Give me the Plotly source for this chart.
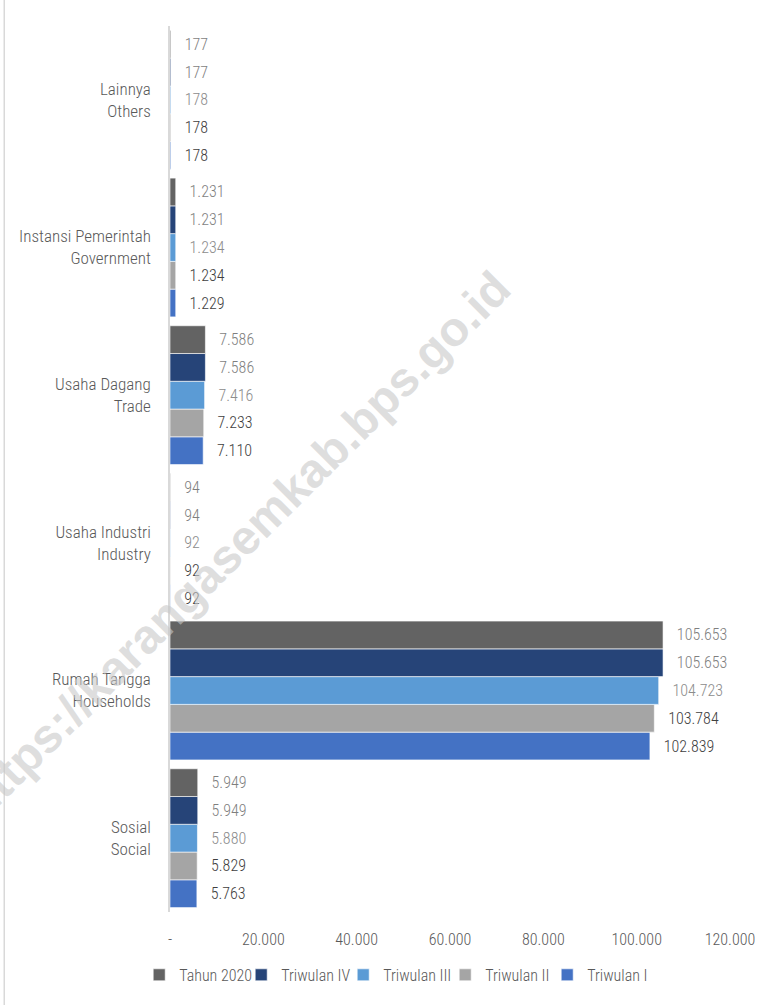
import plotly.graph_objects as go

# Categories, bottom to top on the value axis
categories = [
    "Sosial<br>Social",
    "Rumah Tangga<br>Households",
    "Usaha Industri<br>Industry",
    "Usaha Dagang<br>Trade",
    "Instansi Pemerintah<br>Government",
    "Lainnya<br>Others",
]

# Series values per category (same order as categories)
triwulan_1 = [5763, 102839, 92, 7110, 1229, 178]
triwulan_2 = [5829, 103784, 92, 7233, 1234, 178]
triwulan_3 = [5880, 104723, 92, 7416, 1234, 178]
triwulan_4 = [5949, 105653, 94, 7586, 1231, 177]
tahun_2020 = [5949, 105653, 94, 7586, 1231, 177]

tick_values = [0, 20000, 40000, 60000, 80000, 100000, 120000]
tick_labels = ["-", "20.000", "40.000", "60.000", "80.000", "100.000", "120.000"]

FONT = "Roboto Condensed, Roboto, sans-serif"
W = 300

series = [
    ("Triwulan I", triwulan_1, "#4472c4", "#404040"),
    ("Triwulan II", triwulan_2, "#a5a5a5", "#404040"),
    ("Triwulan III", triwulan_3, "#5b9bd5", "#8c8c8c"),
    ("Triwulan IV", triwulan_4, "#264478", "#7f7f7f"),
    ("Tahun 2020", tahun_2020, "#636363", "#7f7f7f"),
]

fig = go.Figure()
for name, values, color, label_color in series:
    fig.add_trace(go.Bar(
        name=name,
        y=categories,
        x=values,
        orientation="h",
        marker=dict(color=color, line=dict(color="white", width=0.6)),
        texttemplate="\u00a0\u00a0\u00a0%{x:,}",
        textposition="outside",
        cliponaxis=False,
        textfont=dict(family=FONT, size=16, weight=W, color=label_color),
    ))

fig.update_layout(
    width=775,
    height=1005,
    margin=dict(l=170, r=45, t=26, b=93),
    paper_bgcolor="white",
    plot_bgcolor="white",
    barmode="group",
    bargap=0.06,
    bargroupgap=0,
    separators=",.",
    font=dict(family=FONT, size=16, weight=W, color="#595959"),
    showlegend=True,
    legend=dict(
        orientation="h",
        traceorder="reversed",
        x=-0.055, xanchor="left",
        y=-0.071, yanchor="middle",
        font=dict(family=FONT, size=16, weight=W, color="#595959"),
        itemwidth=30,
        entrywidth=57,
    ),
    xaxis=dict(
        range=[0, 120000],
        tickvals=tick_values,
        ticktext=tick_labels,
        showgrid=False,
        zeroline=False,
        showline=False,
        ticks="",
        automargin=False,
        ticklabelstandoff=16,
        tickfont=dict(family=FONT, size=16, weight=W, color="#595959"),
    ),
    yaxis=dict(
        type="category",
        categoryorder="array",
        categoryarray=categories,
        showgrid=False,
        zeroline=False,
        showline=True,
        linecolor="#d9d9d9",
        linewidth=1.5,
        ticks="",
        automargin=False,
        ticklabelstandoff=14,
        tickfont=dict(family=FONT, size=17, weight=W, color="#595959"),
    ),
)

# Site watermark across the chart
fig.add_annotation(
    text="https://karangasemkab.bps.go.id",
    xref="paper", yref="paper",
    x=0.118, y=0.414,
    xanchor="center", yanchor="middle",
    showarrow=False,
    textangle=-45,
    font=dict(family="Liberation Sans, Arial, sans-serif", size=48, weight=700,
              color="rgba(200,200,200,0.6)"),
)

# Thin frame line on the left edge
fig.add_shape(
    type="line", xref="paper", yref="paper",
    x0=-0.296, x1=-0.296, y0=-0.12, y1=1.03,
    line=dict(color="#d9d9d9", width=1.5),
)

fig.write_html("out.html")
